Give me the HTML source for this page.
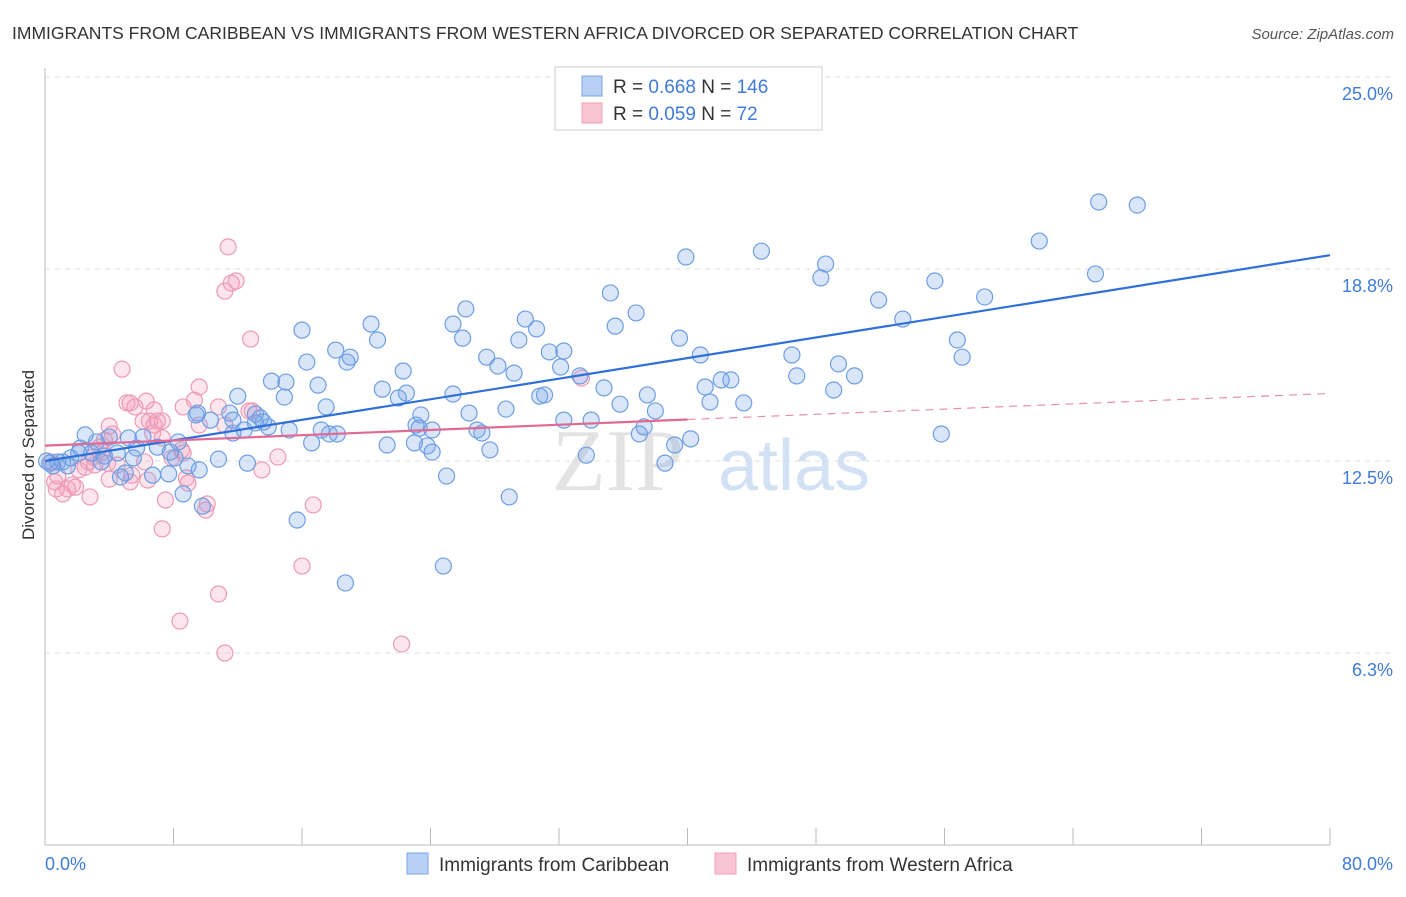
<!DOCTYPE html>
<html><head><meta charset="utf-8"><style>
body{margin:0;background:#fff;font-family:"Liberation Sans",sans-serif;}
</style></head><body>
<svg width="1406" height="892" xmlns="http://www.w3.org/2000/svg" id="svg">
<text x="12" y="39" font-size="17.5" fill="#333">IMMIGRANTS FROM CARIBBEAN VS IMMIGRANTS FROM WESTERN AFRICA DIVORCED OR SEPARATED CORRELATION CHART</text>
<text x="1394" y="39" font-size="15" fill="#555" font-style="italic" text-anchor="end">Source: ZipAtlas.com</text>
<g id="grid"></g>
<g><text x="552" y="490" font-size="88" fill="#ddd" font-family="Liberation Serif,serif" opacity="0.8">ZIP</text><text x="718" y="490" font-size="72" fill="#c9daf2" opacity="0.8">atlas</text></g>
<g id="pts"></g>
<g id="lines"></g>
<text x="34" y="455" font-size="17" fill="#333" text-anchor="middle" transform="rotate(-90 34 455)">Divorced or Separated</text>
<g>
<rect x="555" y="67" width="267" height="63" fill="#fff" stroke="#ccc"/>
<rect x="582" y="76" width="20" height="20" fill="#b8d0f4" stroke="#7aa5e4"/>
<rect x="582" y="103" width="20" height="20" fill="#f8c4d4" stroke="#eea0b8"/>
<text x="613" y="93" font-size="19" fill="#333">R = <tspan fill="#3f7bd8">0.668</tspan>   N = <tspan fill="#3f7bd8">146</tspan></text>
<text x="613" y="120" font-size="19" fill="#333">R = <tspan fill="#3f7bd8">0.059</tspan>   N =   <tspan fill="#3f7bd8">72</tspan></text>
</g>
<g>
<rect x="407" y="853" width="21" height="21" fill="#b8d0f4" stroke="#7aa5e4"/>
<text x="439" y="871" font-size="19" fill="#333">Immigrants from Caribbean</text>
<rect x="715" y="853" width="21" height="21" fill="#f8c4d4" stroke="#eea0b8"/>
<text x="747" y="871" font-size="19" fill="#333">Immigrants from Western Africa</text>
</g>
</svg>
<script>
const yTicks=[25.0,18.8,12.5,6.3];
const yTickVals=[25,18.75,12.5,6.25];
const xTickCount=10;
const blueX=[65.6,68.0,61.9,65.4,55.4,58.5,51.9,53.4,56.8,57.1,55.8,48.6,48.3,44.6,39.9,35.2,36.8,35.5,39.5,40.8,46.5,46.8,49.4,50.4,49.1,41.1,42.1,42.7,43.5,41.4,37.5,38.0,35.8,37.3,37.0,39.2,40.2,38.6,33.7,34.8,33.3,34.0,32.3,32.1,32.3,31.4,31.1,30.8,30.6,29.9,29.5,28.7,28.9,27.7,26.9,27.2,26.4,27.5,28.2,29.2,26.0,26.2,25.4,25.4,25.0,24.8,24.1,23.8,24.1,23.1,23.4,23.0,22.3,22.5,22.0,21.0,21.3,20.7,20.3,19.0,18.8,18.1,18.2,17.7,18.7,17.5,17.2,16.6,17.0,16.0,16.3,15.7,15.2,14.9,15.0,14.1,13.4,13.9,13.6,13.1,12.4,12.0,11.7,11.5,10.3,9.5,8.9,9.4,8.6,8.3,8.1,7.8,7.7,6.7,7.0,5.7,5.5,5.0,5.2,4.7,4.5,4.0,3.7,3.5,3.2,2.9,2.5,2.2,2.1,1.6,1.4,1.1,0.8,0.5,0.3,0.1,9.8,10.8,12.6,6.1,9.6,11.7,23.3,13.1];
const blueY=[20.93,20.83,19.66,18.59,18.36,17.84,17.74,17.12,16.44,15.88,13.38,18.91,18.46,19.33,19.14,17.97,17.32,16.89,16.50,15.95,15.95,15.27,15.66,15.27,14.81,14.91,15.14,15.14,14.39,14.42,14.65,14.13,14.35,13.61,13.38,13.02,13.22,12.43,12.69,14.88,15.27,13.83,13.83,15.56,16.08,16.05,14.65,14.61,16.80,17.12,16.44,14.19,11.33,12.86,13.51,13.41,14.06,15.88,15.59,15.36,16.50,17.45,16.96,14.68,12.01,9.08,13.51,12.99,12.79,13.67,14.00,13.09,15.43,14.71,14.55,14.84,13.02,16.44,16.96,15.88,15.72,16.11,13.38,13.38,8.53,14.26,13.51,13.09,14.97,16.76,15.72,10.58,13.51,14.58,15.07,15.10,13.90,13.61,13.77,14.03,13.51,14.61,13.41,14.06,13.83,14.06,12.34,14.00,11.43,13.12,12.60,12.79,12.08,12.04,12.95,12.92,12.60,12.11,13.25,11.98,12.76,13.28,12.66,12.47,13.12,12.76,13.35,12.92,12.76,12.60,12.34,12.47,12.47,12.34,12.43,12.50,11.03,12.56,12.43,13.28,12.21,13.83,13.57,13.74];
const pinkX=[11.4,11.9,11.6,11.2,12.8,4.8,9.6,9.3,8.6,10.8,12.7,12.9,5.1,5.3,6.3,5.6,6.8,7.0,6.5,7.3,6.1,4.0,4.2,6.7,7.3,8.5,7.9,8.6,8.8,8.9,6.2,6.4,5.3,5.4,3.7,3.6,3.9,3.4,3.0,2.5,2.1,1.7,1.4,1.1,0.7,0.6,0.4,0.8,2.8,1.9,2.7,4.0,4.5,7.5,7.3,10.1,10.0,13.5,14.5,16.7,16.0,10.8,8.4,11.2,22.2,33.4,9.6,6.8,11.2,3.1];
const pinkY=[19.47,18.36,18.29,18.03,16.47,15.49,14.91,14.48,14.26,14.26,14.13,14.13,14.39,14.39,14.45,14.26,14.16,13.80,13.80,13.80,13.80,13.64,13.38,13.41,13.25,12.86,12.60,12.76,11.95,11.78,12.47,11.88,11.82,12.04,13.18,12.79,12.43,12.96,12.63,12.30,12.21,11.72,11.59,11.43,11.59,11.82,12.47,12.01,11.33,11.65,12.47,11.91,12.37,11.23,10.29,11.10,10.90,12.21,12.63,11.07,9.08,8.17,7.29,6.25,6.54,15.20,13.67,13.67,13.67,12.37];
const blueTrend=[12.5,19.2];
const pinkTrend=[13.0,14.7];
const pinkSolidEnd=40;
const NS='http://www.w3.org/2000/svg';
const X=v=>45+v*(1285/80);
const Y=v=>845-v*30.72;
function mk(t,a,p){const e=document.createElementNS(NS,t);for(const k in a)e.setAttribute(k,a[k]);p.appendChild(e);return e;}
const grid=document.getElementById('grid');
yTickVals.forEach((v,i)=>{
 const l=mk('line',{x1:45,x2:1394,y1:Y(v),y2:Y(v),stroke:'#ddd','stroke-dasharray':'5,5'},grid);
 
 
 const t=mk('text',{x:1393,y:Y(v)+23,'font-size':18,fill:'#3f7bd8','text-anchor':'end'},grid);
 t.textContent=yTicks[i].toFixed(1)+'%';
 
 
});
mk('line',{x1:45,x2:45,y1:68,y2:845,stroke:'#bbb'},grid);
mk('line',{x1:45,x2:1330,y1:845,y2:845,stroke:'#bbb'},grid);
for(let i=0;i<=xTickCount;i++){const tk=mk('line',{x1:X(i*8),x2:X(i*8),y1:828,y2:845,stroke:'#bbb'},grid);
 
 }
const xl=mk('text',{x:45,y:870,'font-size':18,fill:'#3f7bd8'},grid);xl.textContent='0.0%';


const xr=mk('text',{x:1393,y:870,'font-size':18,fill:'#3f7bd8','text-anchor':'end'},grid);xr.textContent='80.0%';


const pts=document.getElementById('pts');
pinkX.forEach((x,i)=>{const c=mk('circle',{cx:X(x),cy:Y(pinkY[i]),r:8,fill:'rgba(244,160,190,0.28)',stroke:'#ec9ab6','stroke-width':1.2},pts);
 
 });
blueX.forEach((x,i)=>{const c=mk('circle',{cx:X(x),cy:Y(blueY[i]),r:8,fill:'rgba(120,165,235,0.28)',stroke:'#6e9ee2','stroke-width':1.2},pts);
 
 });
const ln=document.getElementById('lines');
const bl=mk('line',{x1:X(0),y1:Y(blueTrend[0]),x2:X(80),y2:Y(blueTrend[1]),stroke:'#2f6fd6','stroke-width':2.2},ln);


const py=v=>pinkTrend[0]+(pinkTrend[1]-pinkTrend[0])*v/80;
const pl=mk('line',{x1:X(0),y1:Y(py(0)),x2:X(pinkSolidEnd),y2:Y(py(pinkSolidEnd)),stroke:'#e06a94','stroke-width':2.2},ln);


const pd=mk('line',{x1:X(pinkSolidEnd),y1:Y(py(pinkSolidEnd)),x2:X(80),y2:Y(py(80)),stroke:'#e890b0','stroke-width':1.2,'stroke-dasharray':'8,6'},ln);


</script>
</body></html>
